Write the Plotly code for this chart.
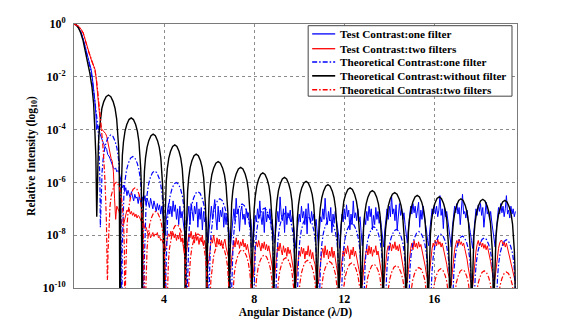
import numpy as np
import plotly.graph_objects as go

# ---------------- data (log10 of relative intensity) ----------------
x_ticks = [4, 8, 12, 16]
y_tick_vals = [1e0, 1e-2, 1e-4, 1e-6, 1e-8, 1e-10]
y_tick_text = ["10<sup>0</sup>", "10<sup>-2</sup>", "10<sup>-4</sup>", "10<sup>-6</sup>",
               "10<sup>-8</sup>", "10<sup>-10</sup>"]

series_names = ["Test Contrast:one filter", "Test Contrast:two filters",
                "Theoretical Contrast:one filter", "Theoretical Contrast:without filter",
                "Theoretical Contrast:two filters"]

# Test contrast: one filter (blue solid)
blue_test_main_x = [0.0, 0.1, 0.2, 0.3, 0.4, 0.5, 0.6, 0.7, 0.77, 0.81, 0.87, 0.92, 0.97]
blue_test_main_logy = [0.0, -0.03, -0.13, -0.3, -0.55, -0.85, -1.2, -1.5, -1.75, -2.0, -2.4, -2.85, -3.4]
blue_test_start = 1.0
blue_test_step = 0.05
blue_test_logy = [
    -4.0, -3.85, -3.9, -4.15, -4.3, -4.35, -4.5, -4.6, -4.7, -4.75, -4.95, -5.0, -5.1, -5.25, -5.3, -5.45, -5.5, -5.45, -5.6, -5.55,
    -5.6, -5.8, -5.9, -6.2, -6.1, -6.35, -6.2, -6.5, -6.3, -6.45, -6.6, -6.35, -6.5, -6.7, -6.45, -6.6, -6.55, -6.8, -6.5, -6.65,
    -6.9, -6.55, -6.7, -6.5, -6.85, -6.6, -6.75, -6.95, -6.6, -6.8, -7.0, -6.7, -6.9, -7.1, -6.8, -7.05, -6.85, -7.2, -6.9, -7.3,
    -7.6, -8.0, -7.4, -7.0, -6.8, -7.2, -6.9, -7.3, -6.7, -7.1, -6.85, -7.4, -7.0, -7.6, -6.9, -7.35, -7.1, -7.5, -7.8, -8.2,
    -7.7, -7.2, -6.9, -7.6, -6.8, -7.1, -7.45, -6.9, -7.2, -6.75, -7.7, -7.0, -7.4, -6.95, -7.8, -7.1, -7.5, -7.3, -7.9, -8.3,
    -7.8, -7.3, -6.9, -7.4, -7.0, -6.65, -7.35, -7.8, -6.9, -7.5, -7.05, -7.3, -6.95, -7.7, -7.15, -7.6, -7.2, -7.5, -8.0, -8.4,
    -7.9, -7.3, -7.0, -7.45, -6.6, -7.2, -7.0, -7.85, -7.1, -6.9, -7.4, -7.2, -7.6, -7.0, -7.35, -7.15, -7.7, -7.4, -7.9, -8.45,
    -7.8, -7.25, -7.5, -7.0, -7.35, -6.7, -7.3, -7.6, -7.1, -7.9, -6.95, -7.5, -7.2, -7.35, -7.0, -7.6, -7.4, -7.8, -8.3, -7.9,
    -7.4, -7.1, -7.5, -6.55, -7.2, -7.45, -7.0, -7.9, -6.9, -7.6, -7.15, -7.35, -7.05, -7.5, -7.25, -7.7, -8.1, -8.5, -7.9, -7.4,
    -7.2, -7.5, -6.9, -7.35, -7.1, -7.6, -7.0, -7.95, -6.8, -7.3, -7.55, -7.1, -7.45, -7.2, -7.65, -7.4, -7.9, -8.4, -7.8, -7.3,
    -7.5, -7.0, -7.4, -6.6, -7.3, -7.6, -7.1, -7.45, -6.95, -7.9, -7.2, -7.55, -7.1, -7.4, -7.7, -8.0, -8.5, -7.7, -7.2, -7.5,
    -7.0, -7.4, -6.85, -7.3, -7.05, -7.8, -7.2, -7.6, -6.7, -7.35, -7.15, -7.45, -7.0, -7.5, -7.3, -7.9, -8.4, -7.8, -7.3, -7.6,
    -7.1, -7.45, -6.9, -7.3, -7.0, -7.8, -7.25, -7.6, -6.95, -7.4, -7.1, -7.55, -7.3, -7.7, -8.1, -8.45, -7.8, -7.3, -7.0, -7.4,
    -6.9, -7.3, -6.5, -7.2, -7.0, -7.45, -6.85, -7.8, -7.1, -6.8, -7.25, -7.0, -7.4, -7.15, -7.6, -7.9, -8.3, -7.7, -7.2, -6.9,
    -7.2, -6.8, -7.15, -6.9, -7.35, -7.0, -6.75, -7.7, -7.05, -7.4, -6.9, -7.3, -7.5, -7.8, -8.2, -8.4, -7.8, -7.3, -7.0, -7.2,
    -6.85, -7.2, -6.9, -7.3, -7.05, -6.5, -7.25, -7.0, -7.75, -6.95, -7.3, -7.1, -7.5, -7.8, -8.1, -8.45, -7.7, -7.25, -6.9, -7.15,
    -6.8, -7.2, -6.95, -7.6, -7.0, -6.45, -7.2, -7.1, -7.35, -7.05, -7.4, -7.6, -7.9, -8.2, -8.5, -7.9, -7.35, -7.0, -7.25, -6.85,
    -7.1, -6.8, -7.25, -6.95, -7.7, -7.0, -6.75, -7.2, -7.05, -7.4, -7.1, -7.5, -7.8, -8.1, -8.45, -7.8, -7.3, -6.95, -7.2, -6.8,
    -7.15, -6.9, -7.3, -7.0, -6.5, -7.2, -7.05, -7.35, -6.9, -7.2, -7.0, -7.3, -7.1,
]

# Test contrast: two filters (red solid)
red_test_main_x = [0.0, 0.1, 0.2, 0.3, 0.41, 0.5, 0.61, 0.7, 0.8, 0.88, 0.93, 0.98, 1.05, 1.12, 1.2]
red_test_main_logy = [0.0, -0.02, -0.08, -0.18, -0.34, -0.6, -0.96, -1.22, -1.45, -1.6, -1.71, -2.02, -2.8, -3.3, -3.95]
red_test_start = 1.25
red_test_step = 0.05
red_test_logy = [
    -4.0, -4.05, -4.1, -4.15, -4.25, -4.45, -4.7, -4.95, -5.1, -5.2, -5.6, -6.6, -7.4, -6.9, -7.0,
    -7.1, -7.3, -7.5, -7.65, -7.6, -7.4, -7.15, -7.05, -7.1, -7.0, -7.2, -7.1, -7.25, -7.15, -7.3, -7.2, -7.35, -7.25, -7.3, -7.45,
    -7.5, -7.4, -7.6, -7.75, -7.7, -7.85, -8.0, -7.9, -8.1, -8.0, -7.9, -8.05, -7.95, -8.0, -7.9, -8.1, -8.05, -8.2, -8.15, -8.3,
    -8.35, -8.6, -8.3, -8.1, -7.95, -8.05, -7.85, -8.0, -7.9, -8.1, -7.95, -8.2, -8.0, -8.15, -7.9, -8.25, -8.1, -8.4, -8.7, -9.0,
    -8.6, -8.2, -7.95, -8.1, -7.85, -8.15, -8.0, -8.3, -7.9, -8.2, -8.05, -8.35, -8.1, -8.25, -8.0, -8.4, -8.2, -8.5, -8.8, -9.1,
    -8.9, -8.4, -8.1, -8.3, -8.0, -8.25, -8.45, -8.1, -8.35, -8.15, -8.4, -8.2, -8.5, -8.3, -8.15, -8.45, -8.6, -8.8, -9.1, -9.4,
    -8.9, -8.4, -8.2, -8.45, -8.1, -8.35, -8.2, -8.5, -8.25, -8.4, -8.15, -8.45, -8.3, -8.55, -8.35, -8.6, -8.8, -9.0, -9.3, -9.6,
    -9.0, -8.5, -8.25, -8.45, -8.2, -8.4, -8.6, -8.3, -8.5, -8.25, -8.55, -8.35, -8.6, -8.4, -8.7, -8.9, -9.2, -9.5, -9.7, -9.2,
    -8.7, -8.4, -8.6, -8.3, -8.55, -8.75, -8.4, -8.65, -8.5, -8.8, -8.45, -8.7, -8.55, -8.85, -9.0, -9.3, -9.6, -9.8, -9.3, -8.9,
    -8.6, -8.8, -8.45, -8.7, -8.5, -8.9, -8.6, -8.75, -8.4, -8.8, -8.55, -8.9, -8.65, -8.95, -9.1, -9.4, -9.7, -9.85, -9.4, -9.0,
    -8.7, -8.5, -8.85, -8.4, -8.75, -8.55, -8.9, -8.6, -8.8, -8.45, -8.85, -8.6, -8.95, -9.15, -9.4, -9.6, -9.8, -9.3, -8.9, -8.6,
    -8.8, -8.5, -8.7, -8.4, -8.65, -8.9, -8.55, -8.75, -8.45, -8.8, -8.6, -8.9, -9.1, -9.3, -9.5, -9.7, -9.9, -9.4, -9.0, -8.7,
    -8.5, -8.75, -8.4, -8.7, -8.45, -8.8, -8.55, -8.65, -8.4, -8.75, -8.6, -8.9, -9.2, -9.45, -9.7, -9.85, -9.4, -8.95, -8.6, -8.4,
    -8.55, -8.3, -8.6, -8.35, -8.5, -8.25, -8.55, -8.4, -8.6, -8.35, -8.65, -8.8, -9.1, -9.4, -9.6, -9.75, -9.8, -9.3, -8.8, -8.5,
    -8.3, -8.55, -8.2, -8.45, -8.3, -8.5, -8.25, -8.45, -8.35, -8.55, -8.7, -8.95, -9.2, -9.5, -9.7, -9.85, -9.3, -8.8, -8.5, -8.3,
    -8.45, -8.2, -8.4, -8.15, -8.35, -8.25, -8.45, -8.3, -8.5, -8.6, -8.85, -9.1, -9.4, -9.6, -9.8, -9.9, -9.4, -8.9, -8.55, -8.35,
    -8.2, -8.4, -8.15, -8.35, -8.25, -8.4, -8.3, -8.5, -8.65, -8.9, -9.2, -9.5, -9.7, -9.85, -9.95, -9.5, -9.0, -8.6, -8.35, -8.2,
    -8.4, -8.25, -8.45, -8.3, -8.5, -8.35, -8.55, -8.4, -8.6, -8.75, -9.0, -9.3, -9.55, -9.8, -9.6, -9.2, -8.8, -8.5, -8.3, -8.2,
    -8.2, -8.4, -8.25, -8.45, -8.3, -8.5, -8.6, -8.8, -9.0, -9.3, -9.5, -9.7, -9.8,
]

# Theoretical curves: main lobe, null positions/depths and side-lobe peak heights
black_main_x = [0.0, 0.1, 0.2, 0.3, 0.4, 0.5, 0.6, 0.7, 0.8, 0.87, 0.92, 0.97]
black_main_logy = [0.0, -0.04, -0.15, -0.34, -0.62, -1.0, -1.45, -1.85, -2.4, -3.0, -3.9, -5.0]
black_null_x = [1.01, 2.05, 3.03, 4.0, 4.95, 5.9, 6.9, 7.9, 8.87, 9.82, 10.79, 11.76, 12.76, 13.73,
                14.75, 15.73, 16.7, 17.66, 18.64, 19.62]
black_null_logy = [-7.3, -14, -14, -14, -14, -14, -14, -14, -14, -14, -14, -14, -14, -14,
                   -14, -14, -14, -14, -14, -14]
black_peak_logy = [-2.69, -3.56, -4.17, -4.58, -4.93, -5.21, -5.43, -5.64, -5.81, -5.96, -6.08,
                   -6.21, -6.31, -6.39, -6.49, -6.55, -6.62, -6.64, -6.68]

bdd_main_x = [0.0, 0.1, 0.2, 0.3, 0.4, 0.5, 0.6, 0.7, 0.8, 0.9, 1.0, 1.05, 1.1]
bdd_main_logy = [0.0, -0.03, -0.13, -0.3, -0.55, -0.88, -1.25, -1.6, -2.05, -2.7, -3.4, -3.8, -4.4]
bdd_null_x = [1.15, 2.12, 3.1, 4.06, 5.02, 5.98, 6.97, 7.96, 8.93, 9.88, 10.86, 11.83, 12.83, 13.8,
              14.82, 15.8, 16.77, 17.72, 18.71, 19.68]
bdd_null_logy = [-6.0, -14, -14, -14, -14, -14, -14, -14, -14, -14, -14, -14, -14, -14,
                 -14, -14, -14, -14, -14, -14]
bdd_peak_logy = [-4.2, -5.02, -5.57, -6.0, -6.35, -6.62, -6.82, -6.98, -7.15, -7.3, -7.42, -7.55,
                 -7.68, -7.78, -7.86, -7.96, -8.03, -8.1, -8.17]

rdd_main_x = [0.0, 0.2, 0.41, 0.61, 0.8, 0.93, 1.0, 1.1, 1.2, 1.3, 1.38, 1.44]
rdd_main_logy = [0.0, -0.08, -0.34, -0.96, -1.4, -1.75, -2.1, -2.9, -3.8, -4.8, -6.0, -7.5]
rdd_null_x = [1.48, 2.27, 3.15, 4.1, 5.03, 5.98, 6.97, 7.96, 8.93, 9.88, 10.86, 11.83, 12.83, 13.8,
              14.82, 15.8, 16.77, 17.72, 18.71, 19.68]
rdd_null_logy = [-9.7, -14, -14, -14, -14, -14, -14, -14, -14, -14, -14, -14, -14, -14,
                 -14, -14, -14, -14, -14, -14]
rdd_peak_logy = [-6.0, -6.2, -7.1, -7.6, -7.95, -8.3, -8.55, -8.75, -8.85, -8.95, -9.0, -9.05,
                 -9.1, -9.15, -9.22, -9.27, -9.3, -9.35, -9.39]

# side-lobe profile (fraction of lobe width from the null, decades below the lobe peak)
lobe_u = [0.02, 0.04, 0.07, 0.10, 0.15, 0.22, 0.30, 0.40, 0.50]
lobe_drop = [-3.5, -2.6, -1.9, -1.4, -0.9, -0.5, -0.25, -0.06, 0.0]


# ---------------- build curves ----------------
def measured_curve(main_x, main_logy, start, step, logy):
    grid = [round(start + step * i, 2) for i in range(len(logy))]
    xs = list(main_x) + grid
    ys = [10.0 ** v for v in list(main_logy) + list(logy)]
    return xs, ys


def theory_curve(main_x, main_logy, null_x, null_logy, peak_logy):
    xs = list(main_x) + [null_x[0]]
    ys = list(main_logy) + [null_logy[0]]
    for i, pk in enumerate(peak_logy):
        a, b = null_x[i], null_x[i + 1]
        w = b - a
        for u, d in zip(lobe_u, lobe_drop):
            xs.append(a + u * w)
            ys.append(pk + d)
        for u, d in zip(lobe_u[-2::-1], lobe_drop[-2::-1]):
            xs.append(b - u * w)
            ys.append(pk + d)
        xs.append(b)
        ys.append(null_logy[i + 1])
    return xs, [10.0 ** v for v in ys]


bt_x, bt_y = measured_curve(blue_test_main_x, blue_test_main_logy, blue_test_start, blue_test_step, blue_test_logy)
rt_x, rt_y = measured_curve(red_test_main_x, red_test_main_logy, red_test_start, red_test_step, red_test_logy)
bd_x, bd_y = theory_curve(bdd_main_x, bdd_main_logy, bdd_null_x, bdd_null_logy, bdd_peak_logy)
bk_x, bk_y = theory_curve(black_main_x, black_main_logy, black_null_x, black_null_logy, black_peak_logy)
rd_x, rd_y = theory_curve(rdd_main_x, rdd_main_logy, rdd_null_x, rdd_null_logy, rdd_peak_logy)

DASHDOT = "5px,2px,1.5px,2px"
styles = [
    dict(color="#0000FF", width=1.0, dash="solid"),
    dict(color="#FF0000", width=1.0, dash="solid"),
    dict(color="#0000FF", width=1.2, dash=DASHDOT),
    dict(color="#000000", width=1.4, dash="solid"),
    dict(color="#FF0000", width=1.2, dash=DASHDOT),
]
curves = [(bt_x, bt_y), (rt_x, rt_y), (bd_x, bd_y), (bk_x, bk_y), (rd_x, rd_y)]

fig = go.Figure()
for (xs, ys), name, st in zip(curves, series_names, styles):
    fig.add_trace(go.Scatter(x=xs, y=ys, mode="lines", name=name, line=st, showlegend=False))

FONT = "Liberation Serif, Times New Roman, serif"

def bold(t):
    return "<b>" + t + "</b>"

# ---------------- manual legend box (to match the compact original legend) ----------------
lg_x0, lg_x1, lg_y0, lg_y1 = 0.5286, 0.9887, 0.7266, 0.9936
row_y = [0.9625, 0.9064, 0.8562, 0.8037, 0.7513]
shapes = [dict(type="rect", xref="paper", yref="paper", x0=lg_x0, x1=lg_x1, y0=lg_y0, y1=lg_y1,
               fillcolor="white", line=dict(color="#444444", width=1), layer="above")]
annotations = []
for ry, name, st in zip(row_y, series_names, styles):
    shapes.append(dict(type="line", xref="paper", yref="paper", x0=0.5376, x1=0.5896, y0=ry, y1=ry,
                       line=dict(color=st["color"], width=st["width"] + 0.3, dash=st["dash"]),
                       layer="above"))
    annotations.append(dict(xref="paper", yref="paper", x=0.5963, y=ry, xanchor="left", yanchor="middle",
                            text=bold(name), showarrow=False,
                            font=dict(family=FONT, size=11.2, color="black")))

fig.update_layout(
    width=572, height=328,
    margin=dict(l=74, r=55, t=24, b=37),
    paper_bgcolor="white", plot_bgcolor="white",
    showlegend=False,
    font=dict(family=FONT, color="black"),
    shapes=shapes, annotations=annotations,
    xaxis=dict(
        range=[0, 19.67], tickvals=x_ticks, ticktext=[bold(str(t)) for t in x_ticks],
        showgrid=True, gridcolor="#8c8c8c", griddash="dot", gridwidth=0.8,
        zeroline=False, showline=True, mirror=True, linecolor="#7a7a7a", linewidth=1,
        ticks="", tickfont=dict(family=FONT, size=12, color="black"),
        title=dict(text=bold("Angular Distance (λ/D)"), standoff=2,
                   font=dict(family=FONT, size=11.5, color="black")),
    ),
    yaxis=dict(
        type="log", range=[-10, 0], tickvals=y_tick_vals, ticktext=[bold(t) for t in y_tick_text],
        showgrid=True, gridcolor="#8c8c8c", griddash="dot", gridwidth=0.8,
        zeroline=False, showline=True, mirror=True, linecolor="#7a7a7a", linewidth=1,
        ticks="", ticklabelstandoff=5,
        tickfont=dict(family=FONT, size=12, color="black"),
        title=dict(text=bold("Relative Intensity (log<sub>10</sub>)"), standoff=4,
                   font=dict(family=FONT, size=11.5, color="black")),
    ),
)

fig.write_html("out.html", config={"displayModeBar": False},
               post_script="document.body.style.margin='0px';document.body.style.padding='0px';")
